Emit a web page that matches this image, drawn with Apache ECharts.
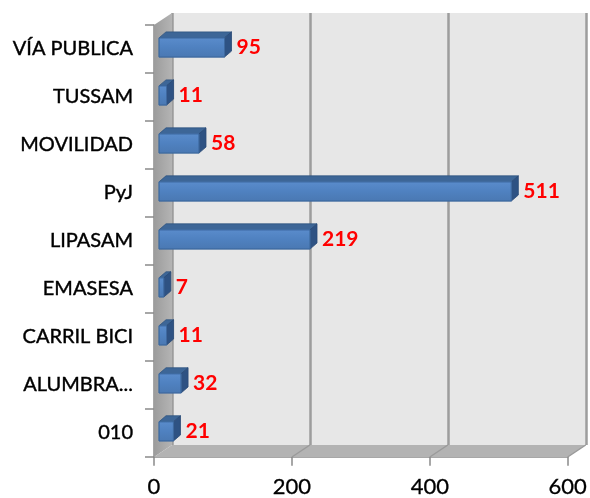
<!DOCTYPE html>
<html><head><meta charset="utf-8">
<script src="https://cdn.jsdelivr.net/npm/echarts@6/dist/echarts.min.js"></script>
<style>html,body{margin:0;padding:0;background:#fff}#c{width:590px;height:498px}</style>
</head><body><div id="c"></div>
<script>
const categories = ['010','ALUMBRA...','CARRIL BICI','EMASESA','LIPASAM','PyJ','MOVILIDAD','TUSSAM','VÍA PUBLICA'];
const values = [21,32,11,7,219,511,58,11,95];
const xTicks = [0,200,400,600];

const W = 590, H = 498;
const F = {left:154, right:22, top:25, bottom:41};   // front plane
const DX = 18, DY = -12;                               // depth offset of back wall
const B = {left:F.left+DX, right:F.right-DX, top:F.top+DY, bottom:F.bottom-DY};
const FONT = 'Lato';

const chart = echarts.init(document.getElementById('c'), null, {renderer:'canvas'});

const data = values.map((v,i)=>[v,i]);

const option = {
  animation:false,
  backgroundColor:'#ffffff',
  grid:[
    {left:B.left, right:B.right, top:B.top, bottom:B.bottom, show:true, backgroundColor:'#e7e7e7', borderWidth:0, z:0},
    {left:F.left, right:F.right, top:F.top, bottom:F.bottom, show:false}
  ],
  xAxis:[
    {gridIndex:0, type:'value', min:0, max:600, interval:200,
     axisLine:{show:false}, axisTick:{show:false}, axisLabel:{show:false},
     splitLine:{show:true, lineStyle:{color:'#9d9d9d', width:2.5}}},
    {gridIndex:1, type:'value', min:0, max:600, interval:200,
     axisLine:{show:true, lineStyle:{color:'#8a8a8a', width:1.5}},
     axisTick:{show:true, length:9, lineStyle:{color:'#8a8a8a', width:1.5}},
     axisLabel:{show:true, margin:19, color:'#000', fontFamily:FONT, fontSize:22,
       textBorderColor:'#000', textBorderWidth:0.3,
       formatter:(v)=> xTicks.includes(v) ? String(v) : ''},
     splitLine:{show:false}}
  ],
  yAxis:[
    {gridIndex:0, type:'category', data:categories, show:false},
    {gridIndex:1, type:'category', data:categories,
     axisLine:{show:true, lineStyle:{color:'#8a8a8a', width:1.5}},
     axisTick:{show:true, length:9, lineStyle:{color:'#8a8a8a', width:1.5}},
     axisLabel:{show:true, margin:21, color:'#000', fontFamily:FONT, fontSize:20,
       textBorderColor:'#000', textBorderWidth:0.4},
     splitLine:{show:false}}
  ],
  series:[{
    type:'custom', xAxisIndex:1, yAxisIndex:1, z:5,
    data:data,
    encode:{x:0, y:1},
    renderItem:function(params, api){
      const v = api.value(0), c = api.value(1);
      const p0 = api.coord([0,c]), p1 = api.coord([v,c]);
      const band = api.size([0,1])[1];
      const h = band*0.40;
      const fx = 5, fy = -1.5, dx = 7, dy = -6;
      const x0 = p0[0]+fx, x1 = p1[0]+fx;
      const yt = p0[1]+fy-h/2, yb = yt+h;
      return {type:'group', children:[
        {type:'polygon', shape:{points:[[x0,yt],[x0+dx,yt+dy],[x1+dx,yt+dy],[x1,yt]]},
         style:{fill:'#3d6697', stroke:'#2f5480', lineWidth:0.8}},
        {type:'polygon', shape:{points:[[x1,yt],[x1+dx,yt+dy],[x1+dx,yb+dy],[x1,yb]]},
         style:{fill:'#2e5283', stroke:'#2a4a76', lineWidth:0.8}},
        {type:'rect', shape:{x:x0, y:yt, width:x1-x0, height:h},
         style:{fill:new echarts.graphic.LinearGradient(0,0,0,1,[
            {offset:0,color:'#5a8ccc'},{offset:0.5,color:'#4f81c0'},{offset:1,color:'#4a78b2'}]),
           stroke:'#3e6aa0', lineWidth:0.8}},
        {type:'text', style:{text:String(v), x:x1+dx+5, y:p0[1]+fy, textVerticalAlign:'middle', textAlign:'left',
          fill:'#ff0000', font:'bold 21px '+FONT}}
      ]};
    }
  }]
};
chart.setOption(option);

// walls and floor derived from axes
const yTop = F.top, yBot = H - F.bottom;
const xf = v => chart.convertToPixel({xAxisIndex:1}, v);
const gfx = [];
gfx.push({type:'polygon', z:1, shape:{points:[[F.left,yTop],[F.left+DX,yTop+DY],[F.left+DX,yBot+DY],[F.left,yBot]]},
  style:{fill:new echarts.graphic.LinearGradient(0,0,1,0,[{offset:0,color:'#9c9c9c'},{offset:1,color:'#b4b4b4'}])}});
gfx.push({type:'polygon', z:1, shape:{points:[[F.left,yBot],[xf(600),yBot],[xf(600)+DX,yBot+DY],[F.left+DX,yBot+DY]]},
  style:{fill:'#b3b3b3'}});
xTicks.forEach(t=>{
  if(t===0) return;
  gfx.push({type:'line', z:2, shape:{x1:xf(t), y1:yBot, x2:xf(t)+DX, y2:yBot+DY}, style:{stroke:'#9a9a9a', lineWidth:1.5}});
});
chart.setOption({graphic:gfx});
</script></body></html>
